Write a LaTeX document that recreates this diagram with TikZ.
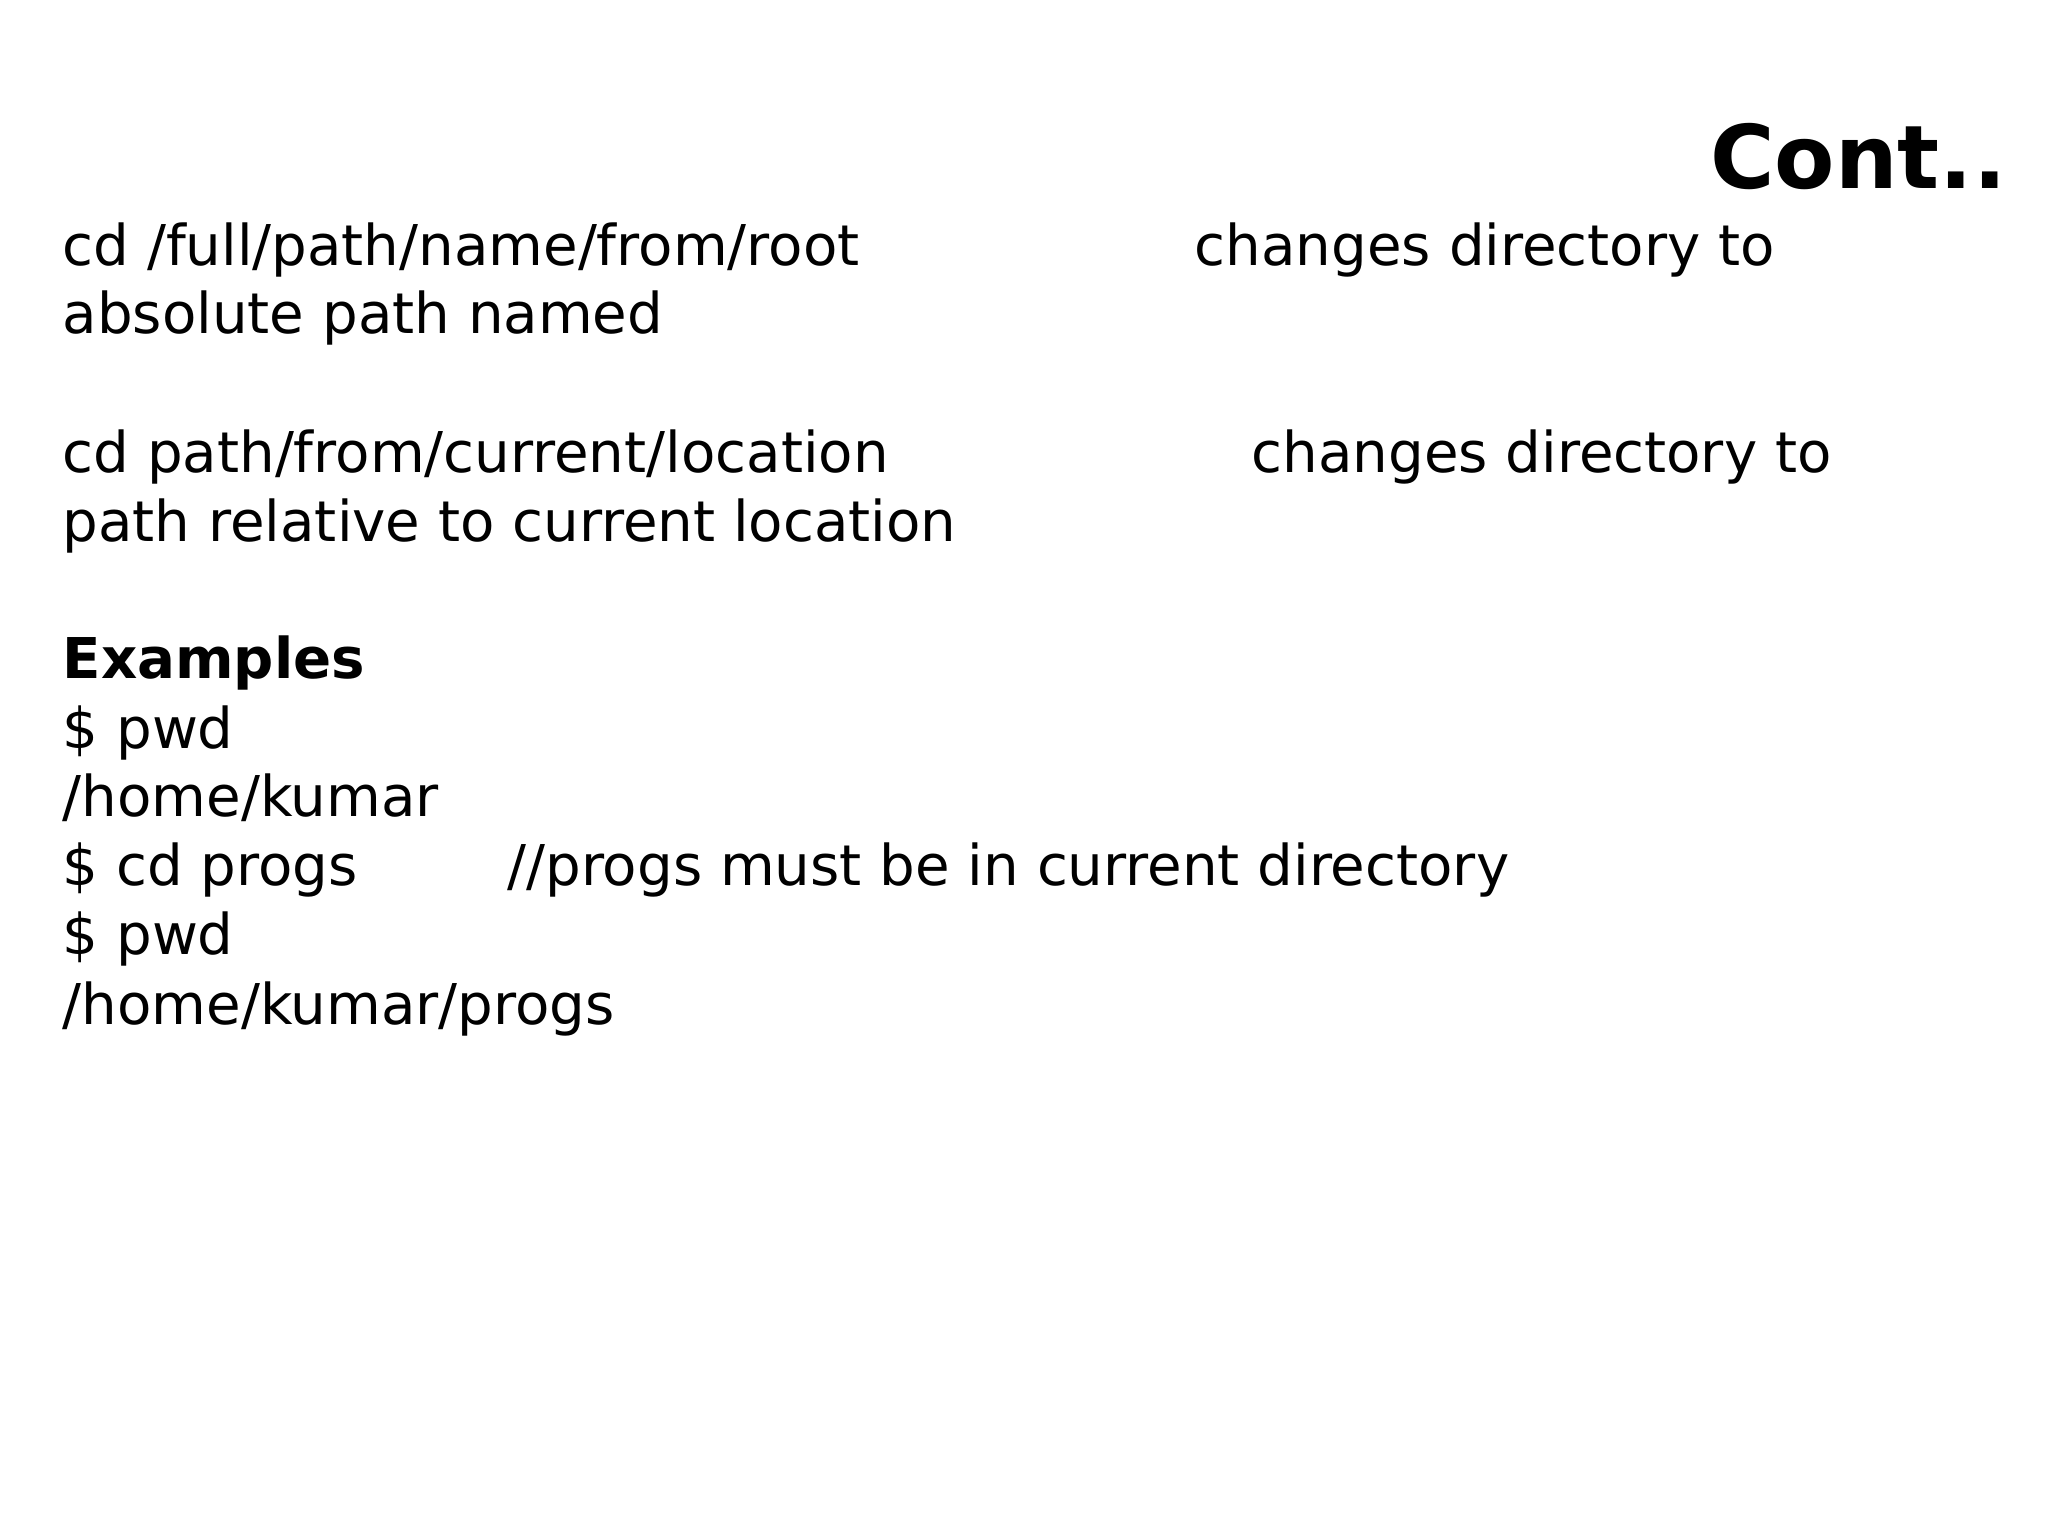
\documentclass[tikz,border=0pt]{standalone}
\usepackage{fontspec}
\setmainfont{DejaVu Sans}
\begin{document}
\begin{tikzpicture}[x=0.013196cm,y=-0.013196cm,
  t/.style={anchor=base west,inner sep=0pt,font=\fontsize{16}{19}\selectfont}]
\useasboundingbox (0,0) rectangle (1552,1164);
\node[anchor=base east,inner sep=0pt,font=\fontsize{25}{30}\selectfont\bfseries] (title) at (1521,143) {Cont..};
\node[t] (l1) at (47,201) {cd /full/path/name/from/root};
\node[t] (l1b) at (905,201) {changes directory to};
\node[t] (l2) at (47,253) {absolute path named};
\node[t] (l3) at (47,358) {cd path/from/current/location};
\node[t] (l3b) at (948,358) {changes directory to};
\node[t] (l4) at (47,410) {path relative to current location};
\node[t,font=\fontsize{16}{19}\selectfont\bfseries] (ex) at (47,514) {Examples};
\node[t] (l5) at (47,567) {\$ pwd};
\node[t] (l6) at (47,619) {/home/kumar};
\node[t] (l7) at (47,671) {\$ cd progs};
\node[t] (l7b) at (384,671) {//progs must be in current directory};
\node[t] (l8) at (47,723) {\$ pwd};
\node[t] (l9) at (47,776) {/home/kumar/progs};
\end{tikzpicture}
\end{document}
